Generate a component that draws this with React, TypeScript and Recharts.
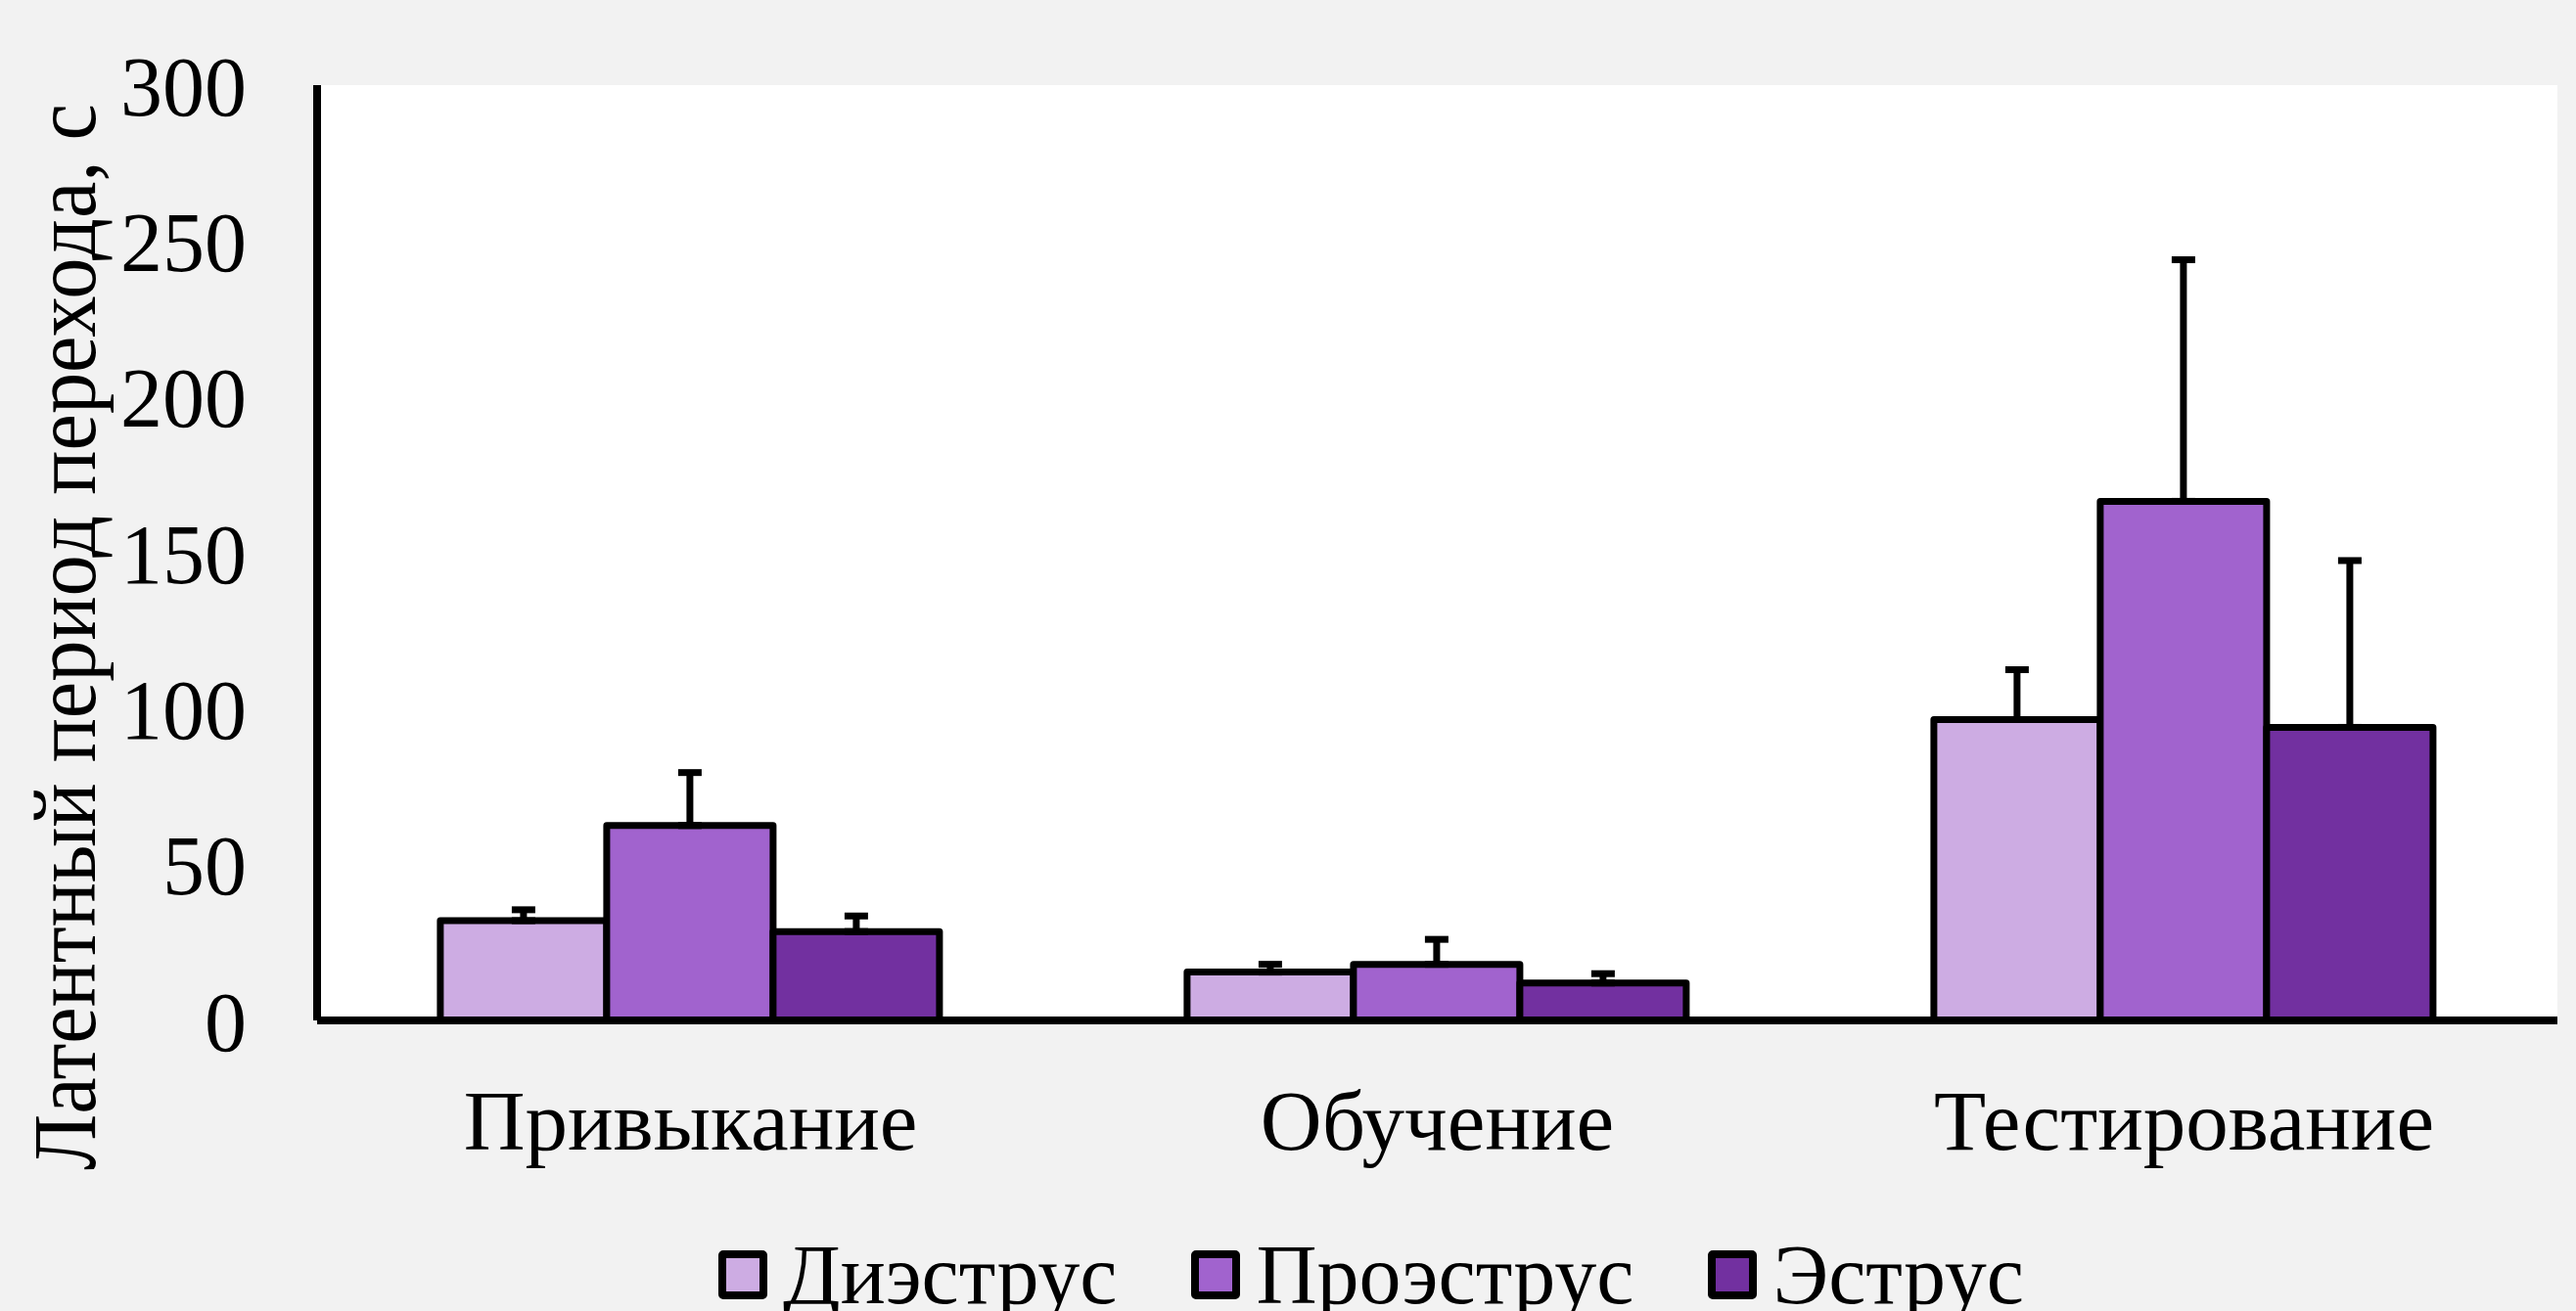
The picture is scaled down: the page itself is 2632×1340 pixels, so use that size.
import {
  Bar,
  BarChart,
  CartesianGrid,
  ErrorBar,
  XAxis,
  YAxis,
} from 'recharts'

const FONT = '"Liberation Serif", "Times New Roman", serif'
const PAGE_BG = '#f2f2f2'

const CATEGORIES = ['Привыкание', 'Обучение', 'Тестирование']
const DIESTRUS = [32, 15.5, 96.5]
const DIESTRUS_ERR = [3.5, 2.5, 16]
const PROESTRUS = [62.5, 18, 166.5]
const PROESTRUS_ERR = [17, 8, 77.5]
const ESTRUS = [28.5, 12, 94]
const ESTRUS_ERR = [5, 3, 53.5]
const Y_TICKS = [0, 50, 100, 150, 200, 250, 300]
const Y_LABEL = 'Латентный период перехода, с'

const SERIES = [
  { key: 'diestrus', name: 'Диэструс', color: '#CDACE3' },
  { key: 'proestrus', name: 'Проэструс', color: '#A163CE' },
  { key: 'estrus', name: 'Эструс', color: '#7230A0' },
]

const rows = CATEGORIES.map((category, i) => ({
  category,
  diestrus: DIESTRUS[i],
  diestrusErr: [0, DIESTRUS_ERR[i]],
  proestrus: PROESTRUS[i],
  proestrusErr: [0, PROESTRUS_ERR[i]],
  estrus: ESTRUS[i],
  estrusErr: [0, ESTRUS_ERR[i]],
}))

// rotated axis title, a little below the plot centre like the original
function YTitle(props: any) {
  const vb = props.viewBox || { x: 0, y: 87, width: 324, height: 955 }
  const x = vb.x + 97
  const y = vb.y + vb.height / 2 + 86
  return (
    <text
      x={x}
      y={y}
      transform={`rotate(-90, ${x}, ${y})`}
      textAnchor="middle"
      fontFamily={FONT}
      fontSize={90}
      textLength={1090}
      lengthAdjust="spacingAndGlyphs"
      fill="#000"
    >
      {Y_LABEL}
    </text>
  )
}

function LegendBox() {
  return (
    <div
      style={{
        position: 'absolute',
        left: 734,
        top: 1260,
        display: 'flex',
        alignItems: 'center',
        gap: 76,
        fontFamily: FONT,
        fontSize: 86,
        lineHeight: 1,
        whiteSpace: 'nowrap',
      }}
    >
      {SERIES.map((s) => (
        <div key={s.key} style={{ display: 'flex', alignItems: 'center' }}>
          <div
            style={{
              width: 50,
              height: 50,
              boxSizing: 'border-box',
              border: '8px solid #000',
              borderRadius: 5,
              background: s.color,
              marginRight: 16,
            }}
          />
          <span>{s.name}</span>
        </div>
      ))}
    </div>
  )
}

export default function App() {
  return (
    <div
      style={{
        position: 'fixed',
        left: 0,
        top: 0,
        width: 2632,
        height: 1340,
        background: PAGE_BG,
        overflow: 'hidden',
      }}
    >
      <BarChart
        width={2632}
        height={1340}
        data={rows}
        margin={{ top: 87, right: 19, bottom: 0, left: 0 }}
        barCategoryGap="16.5%"
        barGap={0}
      >
        <CartesianGrid horizontal={false} vertical={false} fill="#fff" />
        <XAxis
          dataKey="category"
          height={297}
          tickLine={false}
          tickSize={0}
          tickMargin={70}
          axisLine={{ stroke: '#000', strokeWidth: 8 }}
          tick={{ fill: '#000', fontSize: 87, fontFamily: FONT }}
        />
        <YAxis
          width={324}
          domain={[0, 300]}
          ticks={Y_TICKS}
          tickLine={false}
          tickSize={0}
          tickMargin={72}
          axisLine={{ stroke: '#000', strokeWidth: 8 }}
          tick={{ fill: '#000', fontSize: 86, fontFamily: FONT }}
          label={{ content: YTitle }}
        />
        {SERIES.map((s) => (
          <Bar
            key={s.key}
            dataKey={s.key}
            name={s.name}
            fill={s.color}
            stroke="#000"
            strokeWidth={7}
            strokeLinejoin="round"
            isAnimationActive={false}
          >
            <ErrorBar
              dataKey={`${s.key}Err`}
              direction="y"
              width={12}
              stroke="#000"
              strokeWidth={7}
            />
          </Bar>
        ))}
      </BarChart>
      <LegendBox />
    </div>
  )
}
